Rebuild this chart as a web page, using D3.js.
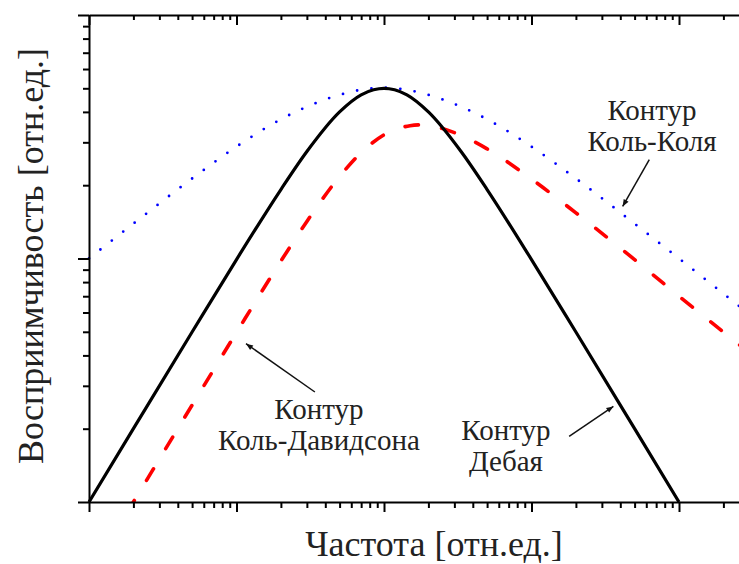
<!DOCTYPE html>
<html><head><meta charset="utf-8">
<script src="https://cdn.jsdelivr.net/npm/d3@7"></script>
<style>
body{margin:0;background:#fff}
svg{display:block}
text{font-family:"Liberation Serif","Times New Roman",serif;fill:#222}
</style>
</head><body>
<svg id="c" width="739" height="564"></svg>
<script>
// ---- data (frequency, susceptibility) ----
const debyeF = [0.01,0.02,0.05,0.1,0.2,0.3,0.5,0.7,0.85,1,1.18,1.43,2,3.33,5,10,20,50,100];
const debyeV = [0.0100,0.0200,0.0499,0.0990,0.192,0.275,0.400,0.470,0.493,0.500,0.493,0.470,0.400,0.275,0.192,0.0990,0.0499,0.0200,0.0100];

const coleColeF = [0.01,0.02,0.05,0.1,0.2,0.3,0.5,0.7,1,1.43,2,3.33,5,10,20,50,100,300];
const coleColeV = [0.100,0.139,0.213,0.288,0.373,0.420,0.470,0.493,0.503,0.493,0.470,0.420,0.373,0.288,0.213,0.139,0.100,0.059];

const coleDavF = [0.01,0.02,0.05,0.1,0.2,0.3,0.5,0.7,1,1.5,1.8,2,3,5,10,20,50,100,300];
const coleDavV = [0.0050,0.0100,0.0250,0.0497,0.0976,0.142,0.217,0.272,0.322,0.351,0.354,0.352,0.329,0.282,0.212,0.154,0.099,0.070,0.041];

const xDomain = [0.01, 1000];
const yDomain = [0.01, 1];

const xTitle = "Частота [отн.ед.]";
const yTitle = "Восприимчивость [отн.ед.]";

// annotations: text lines with anchor (f, value), arrows from -> to (f, value)
const labels = [
  {lines:["Контур","Коль-Коля"], f:65.6, v:0.371, gap:31},
  {lines:["Контур","Коль-Давидсона"], f:0.362, v:0.0219, gap:31},
  {lines:["Контур","Дебая"], f:6.71, v:0.0180, gap:31}
];
const arrows = [
  {f0:62.9, v0:0.2545, f1:41.5, v1:0.1637},
  {f0:0.340, v0:0.0283, f1:0.116, v1:0.0447},
  {f0:18.0, v0:0.0186, f1:35.9, v1:0.0247}
];

// ---- drawing ----
const W = 739, H = 564;
const L = 89, T = 15, B = 502, DEC = 147.5;
const x = d3.scaleLog().domain(xDomain).range([L, L + DEC * 5]);
const y = d3.scaleLog().domain(yDomain).range([B, T]);

const svg = d3.select("#c");
svg.append("rect").attr("width", W).attr("height", H).attr("fill", "#fff");

const defs = svg.append("defs");
defs.append("clipPath").attr("id","plot").append("rect")
  .attr("x", L - 2).attr("y", T).attr("width", x.range()[1] - L + 2).attr("height", B - T);
defs.append("marker").attr("id","ah").attr("viewBox","0 -5 10 10")
  .attr("refX",10).attr("refY",0).attr("markerWidth",10).attr("markerHeight",7)
  .attr("markerUnits","userSpaceOnUse").attr("orient","auto")
  .append("path").attr("d","M0,-4L10,0L0,4Z").attr("fill","#111");

const line = d3.line().x(d => x(d[0])).y(d => y(d[1])).curve(d3.curveMonotoneX);
const g = svg.append("g").attr("clip-path","url(#plot)");

g.append("path").datum(d3.zip(coleColeF, coleColeV)).attr("d", line)
  .attr("fill","none").attr("stroke","#0000ff").attr("stroke-width",2.8)
  .attr("stroke-linecap","round").attr("stroke-dasharray","0 14.5");

g.append("path").datum(d3.zip(coleDavF, coleDavV)).attr("d", line)
  .attr("fill","none").attr("stroke","#ff0000").attr("stroke-width",3.6)
  .attr("stroke-linecap","round").attr("stroke-dasharray","13.5 23.5");

g.append("path").datum(d3.zip(debyeF, debyeV)).attr("d", line)
  .attr("fill","none").attr("stroke","#000").attr("stroke-width",3.2);

// axes
const isMajor = d => Math.abs(Math.log10(d) - Math.round(Math.log10(d))) < 1e-6;
function styleAxis(sel, maj, min, sign, horiz) {
  sel.select(".domain").attr("stroke","#000").attr("stroke-width",2);
  sel.selectAll(".tick line").attr("stroke","#000").attr("stroke-width",2)
    .each(function(d){
      const len = (isMajor(d) ? maj : min) * sign;
      if (horiz) d3.select(this).attr("y2", len); else d3.select(this).attr("x2", len);
    });
  sel.selectAll(".tick text").remove();
}
const xt = x.ticks();
const yt = y.ticks();

svg.append("g").attr("transform",`translate(0,${B})`)
  .call(d3.axisBottom(x).tickValues(xt).tickFormat("").tickSizeOuter(0))
  .call(s => styleAxis(s, 10, 6, 1, true));
svg.append("g").attr("transform",`translate(0,${T})`)
  .call(d3.axisBottom(x).tickValues(xt).tickFormat("").tickSizeOuter(0))
  .call(s => styleAxis(s, 10, 5, 1, true));
svg.append("g").attr("transform",`translate(${L},0)`)
  .call(d3.axisLeft(y).tickValues(yt).tickFormat("").tickSizeOuter(0))
  .call(s => styleAxis(s, 11, 6, -1, false));

// titles
svg.append("text").attr("x", 434).attr("y", 556).attr("text-anchor","middle")
  .attr("font-size", 36).text(xTitle);
svg.append("text").attr("transform","translate(43,256) rotate(-90)").attr("text-anchor","middle")
  .attr("font-size", 36).text(yTitle);

// annotations
labels.forEach(lb => {
  const t = svg.append("text").attr("text-anchor","middle").attr("font-size",29);
  lb.lines.forEach((s,i) => {
    t.append("tspan").attr("x", x(lb.f)).attr("y", y(lb.v) + i * lb.gap).text(s);
  });
});
arrows.forEach(a => {
  svg.append("line").attr("x1", x(a.f0)).attr("y1", y(a.v0))
    .attr("x2", x(a.f1)).attr("y2", y(a.v1))
    .attr("stroke","#111").attr("stroke-width",1.5).attr("marker-end","url(#ah)");
});
</script>
</body></html>
